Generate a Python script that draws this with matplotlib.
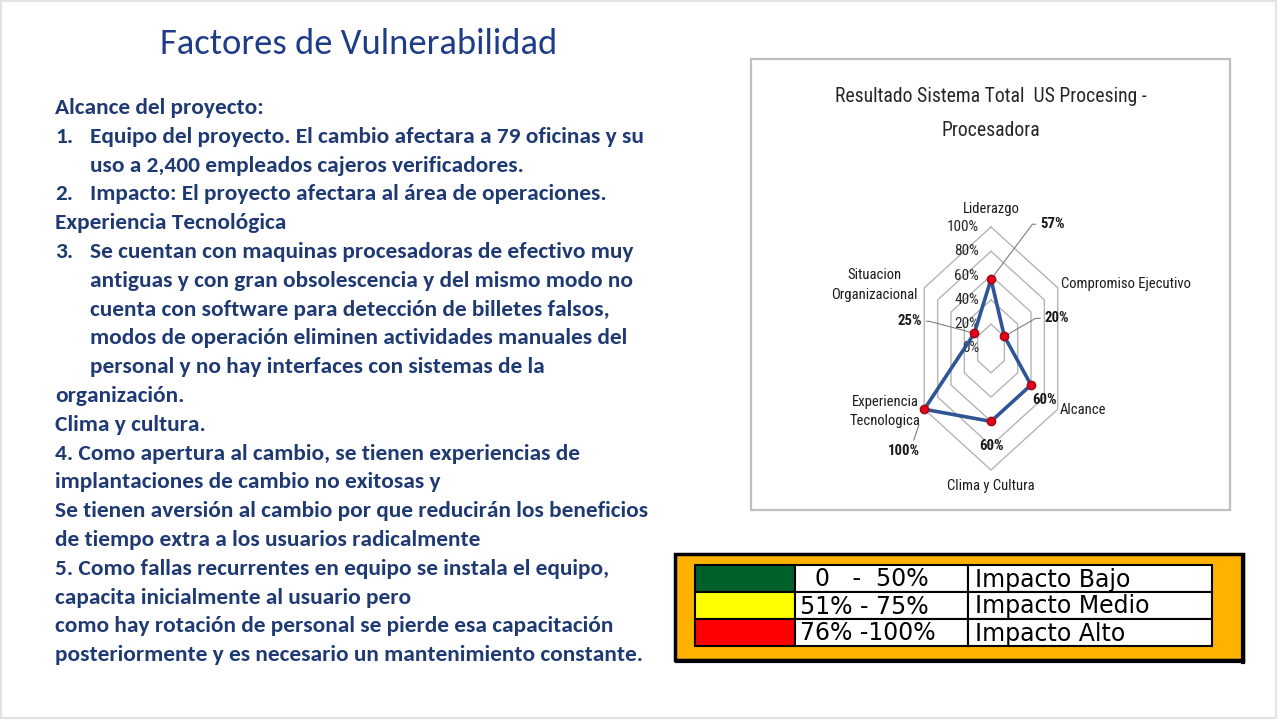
import numpy as np
import matplotlib
matplotlib.use("Agg")
import matplotlib.pyplot as plt
from matplotlib.patches import Rectangle
from matplotlib import font_manager as fm

# datos del radar
categorias = ["Liderazgo", "Compromiso Ejecutivo", "Alcance", "Clima y Cultura",
              "Experiencia\nTecnologica", "Situacion\nOrganizacional"]
valores = [0.57, 0.20, 0.60, 0.60, 1.00, 0.25]
niveles = [0.0, 0.2, 0.4, 0.6, 0.8, 1.0]
niveles_txt = ["0%", "20%", "40%", "60%", "80%", "100%"]

# tabla de impacto
rangos = ["  0   -  50%", "51% - 75%", "76% -100%"]
impactos = ["Impacto Bajo", "Impacto Medio", "Impacto Alto"]
colores_impacto = ["#00602B", "#FFFF00", "#FF0000"]

titulo = "Factores de Vulnerabilidad"
titulo_radar = "Resultado Sistema Total  US Procesing -\nProcesadora"

# texto de la izquierda: (numero, texto, sangria)
lineas = [
    ("", "Alcance del proyecto:", 0),
    ("1.", "Equipo del proyecto. El cambio afectara a 79 oficinas y su", 1),
    ("", "uso a 2,400 empleados cajeros verificadores.", 1),
    ("2.", "Impacto: El proyecto afectara al área de operaciones.", 1),
    ("", "Experiencia Tecnológica", 0),
    ("3.", "Se cuentan con maquinas procesadoras de efectivo muy", 1),
    ("", "antiguas y con gran obsolescencia y del mismo modo no", 1),
    ("", "cuenta con software para detección de billetes falsos,", 1),
    ("", "modos de operación eliminen actividades manuales del", 1),
    ("", "personal y no hay interfaces con sistemas de la", 1),
    ("", "organización.", 0),
    ("", "Clima y cultura.", 0),
    ("", "4. Como apertura al cambio, se tienen experiencias de", 0),
    ("", "implantaciones de cambio no exitosas y", 0),
    ("", "Se tienen aversión al cambio por que reducirán los beneficios", 0),
    ("", "de tiempo extra a los usuarios radicalmente", 0),
    ("", "5. Como fallas recurrentes en equipo se instala el equipo,", 0),
    ("", "capacita inicialmente al usuario pero", 0),
    ("", "como hay rotación de personal se pierde esa capacitación", 0),
    ("", "posteriormente y es necesario un mantenimiento constante.", 0),
]

nombres = set(f.name for f in fm.fontManager.ttflist)


def elegir(cands):
    for c in cands:
        if c in nombres:
            return [c, "DejaVu Sans"]
    return ["DejaVu Sans"]


BODY = elegir(["Carlito", "Lato"])
NARROW = elegir(["Liberation Sans Narrow", "Roboto Condensed", "Open Sans Condensed",
                 "PT Sans Narrow", "Sofia Sans Condensed", "Source Sans 3", "Lato"])
TABLA = elegir(["Verdana", "DejaVu Sans"])

AZUL = "#1F3A73"
W, H = 1278, 720
fig = plt.figure(figsize=(W / 100, H / 100), dpi=100)
fig.patch.set_facecolor("white")
rend = fig.canvas.get_renderer()


def ajustar(txt, fam, ancho, weight="normal"):
    # tamano de letra para que el texto mida 'ancho' pixeles
    t = fig.text(0, 0, txt, fontsize=10, family=fam, weight=weight)
    w = t.get_window_extent(renderer=rend).width
    t.remove()
    return 10 * ancho / w


# capa de fondo en pixeles
bg = fig.add_axes([0, 0, 1, 1])
bg.set_xlim(0, W)
bg.set_ylim(H, 0)
bg.axis("off")
bg.add_patch(Rectangle((1, 1), W - 3, H - 3, fill=False, ec="#e3e3e3", lw=1.5))

fs_tit = ajustar(titulo, BODY, 398)
bg.text(359, 44, titulo, fontsize=fs_tit, color="#1F3C88", family=BODY,
        ha="center", va="center")

PESO = "semibold"
fs_body = ajustar(lineas[14][1], BODY, 595, PESO)
y0, paso = 108, 28.8
for i, (num, txt, sang) in enumerate(lineas):
    y = y0 + i * paso
    if num:
        bg.text(55, y, num, fontsize=fs_body, color=AZUL, family=BODY,
                weight=PESO, ha="left", va="center")
    x = 90 if sang else 55
    bg.text(x, y, txt, fontsize=fs_body, color=AZUL, family=BODY,
            weight=PESO, ha="left", va="center")

# marco del grafico
bg.add_patch(Rectangle((751, 59), 479, 451, fill=False, ec="#BFBFBF", lw=1.6))
tl = titulo_radar.split("\n")
fs_rt = ajustar(tl[0], NARROW, 297) * 1.05
for txt, y in zip(tl, [96, 130]):
    bg.text(991, y, txt, fontsize=fs_rt, color="#262626", family=NARROW,
            ha="center", va="center")

# tabla de impacto
bg.add_patch(Rectangle((675, 554), 568, 106, fc="#FFB200", ec="black", lw=2.5))
bg.plot([1243, 1243], [556, 662], color="black", lw=3)
bg.plot([677, 1243], [661, 661], color="black", lw=3)
fs_tab = min(ajustar(impactos[1], TABLA, 225), 17)
fila_h = 27
for i in range(3):
    yt = 565 + i * fila_h
    bg.add_patch(Rectangle((695, yt), 100, fila_h, fc=colores_impacto[i], ec="black", lw=1.5))
    bg.add_patch(Rectangle((795, yt), 173, fila_h, fc="white", ec="black", lw=1.5))
    bg.add_patch(Rectangle((968, yt), 244, fila_h, fc="white", ec="black", lw=1.5))
    bg.text(800, yt + fila_h / 2 + 1, rangos[i], fontsize=fs_tab, family=TABLA,
            ha="left", va="center", color="black")
    bg.text(975, yt + fila_h / 2 + 1, impactos[i], fontsize=fs_tab, family=TABLA,
            ha="left", va="center", color="black")

# radar (estirado en vertical como en la imagen)
cx, cy, rx, ry = 991, 348.5, 77, 121.5
ax = fig.add_axes([(cx - rx) / W, (H - cy - ry) / H, 2 * rx / W, 2 * ry / H],
                  projection="polar")
ax.set_aspect("auto")
ax.set_theta_zero_location("N")
ax.set_theta_direction(-1)
ax.set_ylim(0, 1)
ax.grid(False)
ax.spines["polar"].set_visible(False)
ax.set_xticks([])
ax.set_yticks([])
ax.patch.set_alpha(0)

ang = np.linspace(0, 2 * np.pi, len(categorias), endpoint=False)
ang_c = np.append(ang, ang[0])
for lv in niveles[1:]:
    ax.plot(ang_c, [lv] * len(ang_c), color="#B5B5B5", lw=1, clip_on=False, zorder=1)

ESC = 1.18  # el texto del grafico original esta estirado en vertical
fs_r = ajustar("100%", NARROW, 27) * ESC
for lv, t in zip(niveles, niveles_txt):
    ax.annotate(t, xy=(0, lv), xytext=(-12, 0), textcoords="offset pixels",
                ha="right", va="center", fontsize=fs_r, family=NARROW, color="#262626")

vals_c = valores + [valores[0]]
ax.plot(ang_c, vals_c, color="#2F5597", lw=2.6, clip_on=False, zorder=3)
ax.plot(ang, valores, ls="none", marker="o", ms=6, mfc="#E8001C", mec="#9B0A14",
        mew=1, clip_on=False, zorder=4)

# etiquetas de categorias
fs_cat = ajustar("Compromiso Ejecutivo", NARROW, 110) * ESC
cat_pos = [((0, 18), "center"), ((3, 4), "left"), ((2, -1), "left"),
           ((0, -16), "center"), ((-4, -2), "right"), ((-7, 3), "right")]
for a, c, (off, ha) in zip(ang, categorias, cat_pos):
    ax.annotate(c, xy=(a, 1.0), xytext=off, textcoords="offset pixels",
                ha=ha, va="center", multialignment="center", fontsize=fs_cat,
                family=NARROW, color="#1a1a1a", linespacing=1.5)

# etiquetas de valores
fs_val = ajustar("100%", NARROW, 27, "bold") * ESC
lab_pos = [(49, 55, "left", (0, 0.5), 53),
           (40, 18, "left", (0, 0.5), 30),
           (13, -15, "center", None, None),
           (0, -25, "center", None, None),
           (-20, -42, "center", (0.75, 1.0), None),
           (-52, 12, "right", (1, 0.5), 180 - 15)]
for a, v, (dx, dy, ha, rel, angb) in zip(ang, valores, lab_pos):
    kw = {}
    if rel is not None:
        cs = "arc3" if angb is None else "angle,angleA=0,angleB=%d,rad=0" % angb
        kw["arrowprops"] = dict(arrowstyle="-", color="#7F7F7F", lw=0.8,
                                relpos=rel, shrinkA=1, shrinkB=3 if angb else 12,
                                connectionstyle=cs)
    ax.annotate("%d%%" % round(v * 100), xy=(a, v), xytext=(dx, dy),
                textcoords="offset pixels", ha=ha, va="center", fontsize=fs_val,
                family=NARROW, weight="bold", color="#1a1a1a", **kw)

fig.savefig("out.png", dpi=100, facecolor="white")
